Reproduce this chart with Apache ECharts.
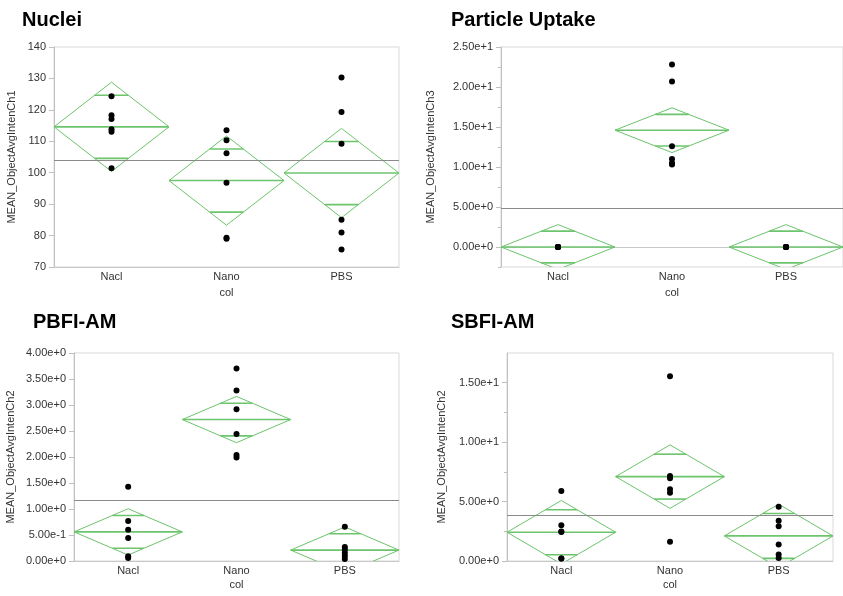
<!DOCTYPE html>
<html>
<head>
<meta charset="utf-8">
<title>Means diamonds</title>
<script src="https://cdn.jsdelivr.net/npm/echarts@6/dist/echarts.min.js"></script>
<style>
  html, body { margin: 0; padding: 0; background: #fff; }
  #chart { width: 843px; height: 596px; }
</style>
</head>
<body>
<div id="chart"></div>
<script>
// groups on the x axis
var categories = ['Nacl', 'Nano', 'PBS']

// Nuclei - MEAN_ObjectAvgIntenCh1
var nucleiNacl = [124.3, 118.3, 117.1, 113.8, 113.0, 101.4]
var nucleiNano = [113.5, 110.3, 106.2, 96.8, 79.3, 79.0]
var nucleiPBS = [130.3, 119.3, 109.2, 85.0, 81.0, 75.6]
var nucleiMeans = [114.6, 97.5, 99.9]
var nucleiCI = [14.2, 14.2, 14.2]
var nucleiGrand = 103.9

// Particle Uptake - MEAN_ObjectAvgIntenCh3
var uptakeNacl = [0, 0, 0, 0, 0, 0]
var uptakeNano = [22.8, 20.7, 12.6, 11.0, 10.5, 10.3]
var uptakePBS = [0, 0, 0, 0, 0, 0]
var uptakeMeans = [0, 14.6, 0]
var uptakeCI = [2.8, 2.8, 2.8]
var uptakeGrand = 4.9

// PBFI-AM - MEAN_ObjectAvgIntenCh2
var pbfiNacl = [1.43, 0.77, 0.60, 0.44, 0.09, 0.06]
var pbfiNano = [3.70, 3.28, 2.92, 2.44, 2.04, 1.99]
var pbfiPBS = [0.66, 0.27, 0.22, 0.16, 0.10, 0.04]
var pbfiMeans = [0.56, 2.72, 0.21]
var pbfiCI = [0.445, 0.445, 0.445]
var pbfiGrand = 1.16

// SBFI-AM - MEAN_ObjectAvgIntenCh2
var sbfiNacl = [5.89, 3.01, 2.48, 2.45, 0.22, 0.20]
var sbfiNano = [15.55, 7.16, 6.96, 6.03, 5.75, 1.61]
var sbfiPBS = [4.56, 3.38, 2.93, 1.38, 0.54, 0.25]
var sbfiMeans = [2.42, 7.1, 2.11]
var sbfiCI = [2.67, 2.67, 2.67]
var sbfiGrand = 3.87

var FONT = 'Liberation Sans'
var GREEN = '#6cc46c'

function toPoints(groups) {
  var out = []
  groups.forEach(function (vals, i) {
    vals.forEach(function (v) { out.push([i, v]) })
  })
  return out
}

function toDiamonds(means, ci) {
  return means.map(function (m, i) { return [i, m, ci[i]] })
}

// JMP style means diamond: full band width, overlap marks at mean +- ci*sqrt(2)/2
function renderDiamond(params, api) {
  var cx = api.value(0)
  var mean = api.value(1)
  var ci = api.value(2)
  var c = api.coord([cx, mean])
  var top = api.coord([cx, mean + ci])
  var bot = api.coord([cx, mean - ci])
  var hw = api.size([1, 0])[0] / 2
  var k = Math.SQRT1_2
  var mw = hw * (1 - k)
  var upY = c[1] - (c[1] - top[1]) * k
  var loY = c[1] + (bot[1] - c[1]) * k
  var style = { stroke: GREEN, fill: null, lineWidth: 1 }
  return {
    type: 'group',
    children: [
      { type: 'polygon', shape: { points: [[c[0] - hw, c[1]], [c[0], top[1]], [c[0] + hw, c[1]], [c[0], bot[1]]] }, style: style },
      { type: 'line', shape: { x1: c[0] - hw, y1: c[1], x2: c[0] + hw, y2: c[1] }, style: { stroke: GREEN, lineWidth: 1.6 } },
      { type: 'line', shape: { x1: c[0] - mw, y1: upY, x2: c[0] + mw, y2: upY }, style: { stroke: GREEN, lineWidth: 1.6 } },
      { type: 'line', shape: { x1: c[0] - mw, y1: loY, x2: c[0] + mw, y2: loY }, style: { stroke: GREEN, lineWidth: 1.6 } }
    ]
  }
}

function sci(v) {
  return Number(v).toExponential(2)
}

var panels = [
  {
    title: 'Nuclei', titlePos: [22, 10],
    grid: { left: 54, top: 47, width: 345, height: 220 },
    yName: 'MEAN_ObjectAvgIntenCh1', yGap: 37,
    min: 70, max: 140, interval: 10, fmt: function (v) { return v },
    groups: [nucleiNacl, nucleiNano, nucleiPBS], means: nucleiMeans, ci: nucleiCI, grand: nucleiGrand,
    xGap: 20
  },
  {
    title: 'Particle Uptake', titlePos: [451, 10],
    grid: { left: 501, top: 47, width: 345, height: 220 },
    yName: 'MEAN_ObjectAvgIntenCh3', yGap: 65,
    min: -2.5, max: 25, major: [0, 5, 10, 15, 20, 25], minor: [-2.5, 2.5, 7.5, 12.5, 17.5, 22.5], fmt: sci,
    groups: [uptakeNacl, uptakeNano, uptakePBS], means: uptakeMeans, ci: uptakeCI, grand: uptakeGrand,
    xGap: 20
  },
  {
    title: 'PBFI-AM', titlePos: [33, 312],
    grid: { left: 74, top: 353, width: 325, height: 208 },
    yName: 'MEAN_ObjectAvgIntenCh2', yGap: 58,
    min: 0, max: 4, interval: 0.5, fmt: sci,
    groups: [pbfiNacl, pbfiNano, pbfiPBS], means: pbfiMeans, ci: pbfiCI, grand: pbfiGrand,
    xGap: 18
  },
  {
    title: 'SBFI-AM', titlePos: [451, 312],
    grid: { left: 507, top: 353, width: 326, height: 208 },
    yName: 'MEAN_ObjectAvgIntenCh2', yGap: 60,
    min: 0, max: 17.5, major: [0, 5, 10, 15], minor: [2.5, 7.5, 12.5], fmt: sci,
    groups: [sbfiNacl, sbfiNano, sbfiPBS], means: sbfiMeans, ci: sbfiCI, grand: sbfiGrand,
    xGap: 18
  }
]

var option = {
  animation: false,
  backgroundColor: '#fff',
  textStyle: { fontFamily: FONT },
  title: [],
  grid: [],
  xAxis: [],
  yAxis: [],
  series: []
}

panels.forEach(function (p, i) {
  option.title.push({
    text: p.title, left: p.titlePos[0], top: p.titlePos[1], padding: 0,
    textStyle: { fontFamily: FONT, fontSize: 20, fontWeight: 'bold', color: '#000' }
  })
  option.grid.push(Object.assign({ show: true, borderColor: '#d9d9d9', borderWidth: 1 }, p.grid))
  option.xAxis.push({
    type: 'category', gridIndex: i, data: categories,
    name: 'col', nameLocation: 'middle', nameGap: p.xGap,
    nameTextStyle: { color: '#333', fontSize: 11, fontFamily: FONT },
    axisLine: { lineStyle: { color: '#c8c8c8' } },
    axisTick: { length: 4, lineStyle: { color: '#c8c8c8' } },
    axisLabel: { color: '#333', fontSize: 11, margin: 4, fontFamily: FONT },
    splitLine: { show: false }
  })
  var yAxisIndex = option.yAxis.length
  var y = {
    type: 'value', gridIndex: i, min: p.min, max: p.max,
    name: p.yName, nameLocation: 'middle', nameRotate: 90, nameGap: p.yGap,
    nameTextStyle: { color: '#333', fontSize: 11, fontFamily: FONT },
    axisLine: { show: true, lineStyle: { color: '#c0c0c0' } },
    axisTick: { show: true, length: 5, lineStyle: { color: '#c0c0c0' } },
    axisLabel: { color: '#333', fontSize: 11, margin: 8, fontFamily: FONT, formatter: p.fmt },
    splitLine: { show: false }
  }
  if (p.major) {
    y.axisLabel.customValues = p.major
    y.axisTick.customValues = p.major
  } else {
    y.interval = p.interval
  }
  option.yAxis.push(y)
  if (p.minor) {
    // second axis only to draw the short minor ticks
    option.yAxis.push({
      type: 'value', gridIndex: i, min: p.min, max: p.max, position: 'left',
      axisLine: { show: false },
      axisTick: { show: true, length: 3, customValues: p.minor, lineStyle: { color: '#c0c0c0' } },
      axisLabel: { show: false, customValues: p.minor },
      splitLine: { show: false }
    })
  }
  option.series.push({
    type: 'custom', xAxisIndex: i, yAxisIndex: yAxisIndex, clip: true,
    renderItem: renderDiamond,
    data: toDiamonds(p.means, p.ci),
    z: 2
  })
  option.series.push({
    type: 'scatter', xAxisIndex: i, yAxisIndex: yAxisIndex,
    symbolSize: 6, itemStyle: { color: '#000', opacity: 1 },
    data: toPoints(p.groups),
    markLine: {
      silent: true, symbol: ['none', 'none'], label: { show: false },
      lineStyle: { color: '#8a8a8a', type: 'solid', width: 1 },
      data: [{ yAxis: p.grand }]
    },
    z: 3
  })
})

var myChart = echarts.init(document.getElementById('chart'))
myChart.setOption(option)
</script>
</body>
</html>
